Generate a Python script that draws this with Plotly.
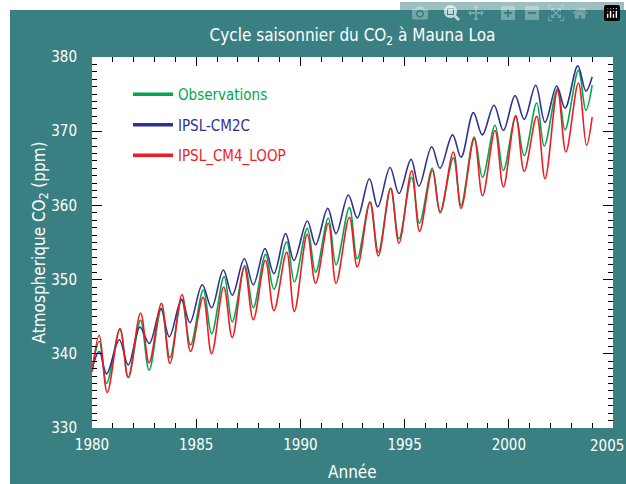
import plotly.graph_objects as go

# ---- data (seasonal maxima / minima) ----
obs_t = [1980.0, 1980.35, 1980.70, 1981.34, 1981.74, 1982.33, 1982.74, 1983.33, 1983.74, 1984.30,
         1984.73, 1985.34, 1985.74, 1986.34, 1986.73, 1987.34, 1987.74, 1988.33, 1988.73, 1989.34,
         1989.71, 1990.33, 1990.73, 1991.34, 1991.71, 1992.35, 1992.73, 1993.34, 1993.74, 1994.33,
         1994.73, 1995.34, 1995.71, 1996.33, 1996.70, 1997.34, 1997.71, 1998.34, 1998.74, 1999.34,
         1999.74, 2000.33, 2000.74, 2001.34, 2001.70, 2002.34, 2002.70, 2003.34, 2003.70, 2004.0]
obs_v = [337.6, 341.7, 336.0, 343.3, 336.8, 344.5, 337.8, 346.1, 339.5, 347.3,
         341.2, 348.6, 342.7, 350.4, 344.3, 351.9, 346.2, 353.4, 348.7, 355.1,
         349.7, 356.9, 351.0, 358.3, 352.0, 359.7, 352.8, 360.5, 353.7, 362.3,
         355.5, 363.8, 357.6, 365.0, 359.0, 366.4, 360.0, 369.2, 363.8, 370.8,
         364.7, 371.9, 366.7, 373.8, 368.0, 375.7, 370.2, 378.2, 372.8, 376.2]

cm2c_t = [1980.0, 1980.35, 1980.70, 1981.31, 1981.74, 1982.30, 1982.75, 1983.30, 1983.71, 1984.30,
          1984.70, 1985.29, 1985.74, 1986.30, 1986.73, 1987.31, 1987.74, 1988.30, 1988.73, 1989.29,
          1989.69, 1990.33, 1990.73, 1991.31, 1991.71, 1992.30, 1992.73, 1993.31, 1993.71, 1994.30,
          1994.73, 1995.31, 1995.69, 1996.30, 1996.70, 1997.30, 1997.71, 1998.30, 1998.73, 1999.29,
          1999.74, 2000.30, 2000.74, 2001.29, 2001.74, 2002.30, 2002.70, 2003.31, 2003.70, 2004.0]
cm2c_v = [337.9, 340.3, 337.3, 341.9, 338.5, 343.6, 341.4, 346.1, 342.3, 347.3,
          344.2, 349.3, 346.2, 351.3, 347.9, 352.8, 349.3, 354.2, 350.8, 356.2,
          352.6, 357.9, 354.7, 359.6, 356.2, 361.4, 358.3, 363.6, 359.8, 365.1,
          361.6, 366.2, 362.6, 367.9, 365.0, 369.5, 366.5, 372.5, 369.5, 373.5,
          370.1, 374.8, 371.6, 376.2, 371.2, 376.1, 373.1, 378.8, 375.4, 377.3]

cm4_t = [1980.0, 1980.35, 1980.73, 1981.34, 1981.74, 1982.33, 1982.74, 1983.33, 1983.74, 1984.32,
         1984.73, 1985.33, 1985.74, 1986.32, 1986.73, 1987.31, 1987.74, 1988.32, 1988.73, 1989.34,
         1989.71, 1990.33, 1990.73, 1991.34, 1991.71, 1992.35, 1992.73, 1993.34, 1993.74, 1994.33,
         1994.73, 1995.34, 1995.72, 1996.33, 1996.71, 1997.34, 1997.71, 1998.34, 1998.74, 1999.34,
         1999.74, 2000.33, 2000.74, 2001.34, 2001.74, 2002.34, 2002.74, 2003.34, 2003.73, 2004.0]
cm4_v = [337.6, 342.5, 334.8, 343.4, 336.8, 345.5, 338.8, 346.8, 338.7, 348.0,
         340.3, 347.6, 340.0, 349.0, 342.2, 351.7, 344.6, 352.6, 345.8, 353.7,
         345.7, 356.1, 349.5, 357.6, 349.5, 358.4, 351.7, 360.4, 353.2, 362.3,
         354.9, 364.7, 356.5, 364.7, 359.1, 367.2, 359.6, 369.0, 361.3, 370.1,
         362.5, 372.1, 364.6, 372.0, 363.6, 375.5, 367.2, 376.5, 368.1, 371.9]

series_names = ["Observations", "IPSL-CM2C", "IPSL_CM4_LOOP"]
series_colors = ["#00a651", "#2e3192", "#ed1c24"]
x_ticks = [1980, 1985, 1990, 1995, 2000, 2005]
y_ticks = [330, 340, 350, 360, 370, 380]

TEAL = "#3a8083"
FONT = "Liberation Sans Narrow, DejaVu Sans Condensed, Arial Narrow, sans-serif"

fig = go.Figure()
data = [(obs_t, obs_v), (cm2c_t, cm2c_v), (cm4_t, cm4_v)]
for (t, v), name, col in zip(data, series_names, series_colors):
    fig.add_trace(go.Scatter(x=t, y=v, mode="lines",
                             line=dict(color=col, width=1.6, shape="spline", smoothing=1.0),
                             showlegend=False, hoverinfo="skip"))
# legend entries (thicker sample lines)
for i, (name, col) in enumerate(zip(series_names, series_colors)):
    fig.add_trace(go.Scatter(x=[None], y=[None], mode="lines", line=dict(color=col, width=3.5),
                             name=f"<span style='color:{col}'>{name}</span>", legendgroup=f"g{i}",
                             showlegend=True))

# page body margin is removed by a post-script, so the figure fills the whole window
W, H = 626, 484
ml, mr, mt, mb = 92, 13, 57, 56
pw, ph = W - ml - mr, H - mt - mb

def px_to_paper_x(px):  # px = page pixel
    return (px - ml) / pw

def px_to_paper_y(py):
    return (H - mb - py) / ph

TICKFONT = dict(family=FONT, size=15, color="white")
axis_common = dict(showgrid=False, zeroline=False, ticks="inside", tickcolor="black", tickwidth=1,
                   mirror="ticks", showline=False)

# last x tick label sits at the figure's right edge: drawn as a right-aligned annotation
x_ticktext = [str(v) for v in x_ticks[:-1]] + [""]

fig.update_xaxes(range=[1980, 2005], tickvals=x_ticks, ticktext=x_ticktext, ticklen=9,
                 minor=dict(dtick=1, ticklen=5, tickcolor="black", ticks="inside"),
                 ticklabelstandoff=6, tickfont=TICKFONT, **axis_common)
fig.update_yaxes(range=[330, 380], tickvals=y_ticks, ticklen=10,
                 minor=dict(dtick=1, ticklen=5, tickcolor="black", ticks="inside"),
                 ticklabelstandoff=14, tickfont=TICKFONT, **axis_common)

fig.update_layout(
    width=W, height=H,
    margin=dict(l=ml, r=mr, t=mt, b=mb),
    paper_bgcolor=TEAL, plot_bgcolor="white",
    font=dict(family=FONT, color="white"),
    title=dict(text="Cycle saisonnier du CO<sub>2</sub> à Mauna Loa", x=0.5, xref="paper",
               y=1 - 35 / H, yref="container", yanchor="middle",
               font=dict(family=FONT, size=17, color="white")),
    legend=dict(x=px_to_paper_x(128), y=px_to_paper_y(78), xanchor="left", yanchor="top",
                bgcolor="rgba(0,0,0,0)", font=dict(family=FONT, size=15), tracegroupgap=8,
                itemwidth=40),
    showlegend=True,
    shapes=[
        dict(type="rect", xref="paper", yref="paper", x0=px_to_paper_x(0), x1=px_to_paper_x(10),
             y0=px_to_paper_y(H), y1=px_to_paper_y(0), fillcolor="white", line=dict(width=0)),
        dict(type="rect", xref="paper", yref="paper", x0=px_to_paper_x(0), x1=px_to_paper_x(W),
             y0=px_to_paper_y(10), y1=px_to_paper_y(0), fillcolor="white", line=dict(width=0)),
    ],
    annotations=[
        dict(text="Atmospherique CO<sub>2</sub> (ppm)", xref="paper", yref="paper",
             x=px_to_paper_x(40), y=0.5, textangle=-90, showarrow=False,
             xanchor="center", yanchor="middle", font=dict(family=FONT, size=17, color="white")),
        dict(text="Année", xref="paper", yref="paper", x=0.5, y=px_to_paper_y(472), showarrow=False,
             xanchor="center", yanchor="middle", font=dict(family=FONT, size=17, color="white")),
        dict(text=str(x_ticks[-1]), xref="paper", yref="paper", x=px_to_paper_x(625), y=px_to_paper_y(446),
             showarrow=False, xanchor="right", yanchor="middle", font=TICKFONT, borderpad=0),
    ],
)

fig.write_html("out.html",
               post_script="document.body.style.margin='0';document.body.style.overflow='hidden';"
                           "document.documentElement.style.overflow='hidden';")
